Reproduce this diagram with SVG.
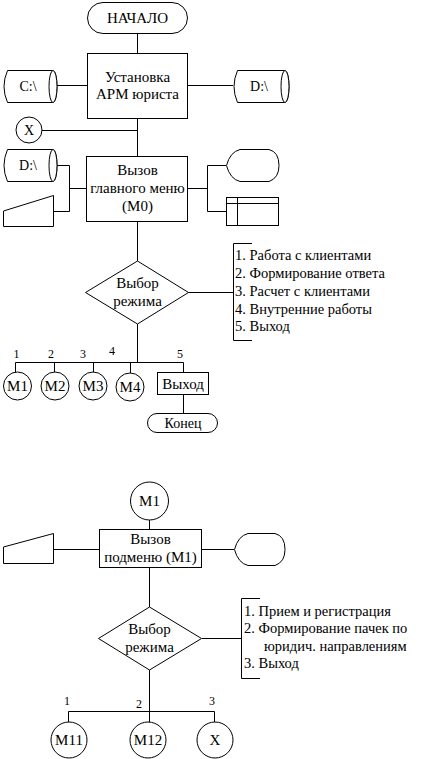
<svg xmlns="http://www.w3.org/2000/svg" width="442" height="759" viewBox="0 0 442 759">
<style>
.s{fill:#fff;stroke:#000;stroke-width:1}
.l{fill:none;stroke:#000;stroke-width:1}
text{fill:#000;font-family:'Liberation Serif','Times New Roman',serif}
.t{font-size:15px;text-anchor:middle}
.c{font-size:14px;text-anchor:middle}
.n{font-size:12px;text-anchor:middle}
.li{font-size:14.5px}
</style>
<rect width="442" height="759" fill="#fff"/>
<g id="connectors">
<path class="l" d="M137.5,33 V53 M137.5,118 V157 M137.5,221 V261 M137.5,324 V362.5"/>
<path class="l" d="M57,85.5 H87 M187,85.5 H233"/>
<path class="l" d="M42,130.5 H137.5"/>
<path class="l" d="M53,165.5 H69.5 V211.5 H53 M69.5,188.5 H86"/>
<path class="l" d="M188,188.5 H207.5 M207.5,165.5 V211.5 M207.5,165.5 H226 M207.5,211.5 H226"/>
<path class="l" d="M188,292.5 H233"/>
<path class="l" d="M15.5,372 V362.5 H183.5 V372 M54.5,362.5 V372 M93.5,362.5 V372 M130.5,362.5 V373"/>
<path class="l" d="M183.5,394 V413"/>
<path class="l" d="M149.5,520 V529 M149.5,567 V607 M149.5,670 V722"/>
<path class="l" d="M53,549.5 H99 M202,549.5 H234"/>
<path class="l" d="M202,638.5 H241"/>
<path class="l" d="M68.5,722 V711.5 H214.5 V722"/>
</g>
<g id="start">
<rect class="s" x="87.5" y="2.5" width="100" height="31" rx="15.5"/>
<text class="t" x="137.5" y="23">НАЧАЛО</text>
</g>
<g id="install">
<rect class="s" x="87.5" y="53.5" width="100" height="65"/>
<text class="t" x="137.5" y="82">Установка</text>
<text class="t" x="137.5" y="99">АРМ юриста</text>
</g>
<g id="diskC">
<path class="s" d="M7.5,70.5 H53 A4,16 0 0 1 53,102.5 H7.5 Q0.5,86.5 7.5,70.5 Z"/>
<ellipse class="s" cx="53" cy="86.5" rx="4" ry="16"/>
<text class="c" x="28" y="91">C:\</text>
</g>
<g id="diskD1">
<path class="s" d="M237.5,70.5 H285 A4,16 0 0 1 285,102.5 H237.5 Q230.5,86.5 237.5,70.5 Z"/>
<ellipse class="s" cx="285" cy="86.5" rx="4" ry="16"/>
<text class="c" x="259" y="91">D:\</text>
</g>
<g id="connX1">
<circle class="s" cx="29" cy="130" r="13"/>
<text class="c" x="29" y="135">X</text>
</g>
<g id="diskD2">
<path class="s" d="M7.5,149.5 H53 A4,16 0 0 1 53,181.5 H7.5 Q0.5,165.5 7.5,149.5 Z"/>
<ellipse class="s" cx="53" cy="165.5" rx="4" ry="16"/>
<text class="c" x="28" y="170">D:\</text>
</g>
<g id="input1">
<path class="s" d="M3.5,211 L53.5,195.5 V226.5 H3.5 Z"/>
</g>
<g id="mainmenu">
<rect class="s" x="86.5" y="156.5" width="101" height="65"/>
<text class="t" x="137.5" y="175">Вызов</text>
<text class="t" x="137.5" y="193">главного меню</text>
<text class="t" x="137.5" y="211">(M0)</text>
</g>
<g id="display1">
<path class="s" d="M226.5,165.5 Q230,152 240,149.5 H269 Q279,152 279,165.5 Q279,178 269,181.5 H240 Q230,179 226.5,165.5 Z"/>
</g>
<g id="table1">
<rect class="s" x="226.5" y="197.5" width="52" height="28"/>
<path class="l" d="M226.5,203.5 H278.5 M237.5,197.5 V225.5"/>
</g>
<g id="choice1">
<polygon class="s" points="137.5,261 188.5,292.5 137.5,324 85.5,292.5"/>
<text class="t" x="137.5" y="288">Выбор</text>
<text class="t" x="137.5" y="306">режима</text>
</g>
<g id="list1">
<path class="l" d="M252,243.5 H233.5 V340.5 H252"/>
<text class="li" x="235" y="260">1. Работа с клиентами</text>
<text class="li" x="235" y="278">2. Формирование ответа</text>
<text class="li" x="235" y="296">3. Расчет с клиентами</text>
<text class="li" x="235" y="314">4. Внутренние работы</text>
<text class="li" x="235" y="331">5. Выход</text>
</g>
<g id="labels1">
<text class="n" x="16.5" y="358">1</text>
<text class="n" x="51" y="358">2</text>
<text class="n" x="83" y="358">3</text>
<text class="n" x="112" y="355">4</text>
<text class="n" x="180" y="358">5</text>
</g>
<g id="m1a"><circle class="s" cx="17.5" cy="386" r="14"/><text class="t" x="17.5" y="391">M1</text></g>
<g id="m2a"><circle class="s" cx="55" cy="386" r="14"/><text class="t" x="55" y="391">M2</text></g>
<g id="m3a"><circle class="s" cx="93" cy="386" r="14"/><text class="t" x="93" y="391">M3</text></g>
<g id="m4a"><circle class="s" cx="130" cy="387" r="14"/><text class="t" x="130" y="392">M4</text></g>
<g id="exit1">
<rect class="s" x="157.5" y="372.5" width="51" height="22"/>
<text class="t" x="183" y="389">Выход</text>
</g>
<g id="end">
<rect class="s" x="147.5" y="413.5" width="70" height="19" rx="9.5"/>
<text class="c" x="183" y="428">Конец</text>
</g>
<g id="m1b">
<circle class="s" cx="149.5" cy="501" r="19"/>
<text class="t" x="149.5" y="506">M1</text>
</g>
<g id="submenu">
<rect class="s" x="99.5" y="529.5" width="102" height="38"/>
<text class="t" x="150.5" y="544">Вызов</text>
<text class="t" x="150.5" y="562">подменю (M1)</text>
</g>
<g id="input2">
<path class="s" d="M3.5,547 L53.5,533.5 V563.5 H3.5 Z"/>
</g>
<g id="display2">
<path class="s" d="M234.5,549.5 Q238,536 248,533.5 H275 Q285,536 285,549.5 Q285,562 275,565.5 H248 Q238,563 234.5,549.5 Z"/>
</g>
<g id="choice2">
<polygon class="s" points="149.5,607 201.5,638.5 149.5,670 98.5,638.5"/>
<text class="t" x="149.5" y="634">Выбор</text>
<text class="t" x="149.5" y="652">режима</text>
</g>
<g id="list2">
<path class="l" d="M260,598.5 H241.5 V678.5 H260"/>
<text class="li" x="244" y="616">1. Прием и регистрация</text>
<text class="li" x="244" y="633">2. Формирование пачек по</text>
<text class="li" x="264" y="651">юридич. направлениям</text>
<text class="li" x="244" y="668">3. Выход</text>
</g>
<g id="labels2">
<text class="n" x="67" y="705">1</text>
<text class="n" x="139" y="708">2</text>
<text class="n" x="212" y="705">3</text>
</g>
<g id="m11"><circle class="s" cx="69" cy="740" r="18"/><text class="t" x="69" y="745">M11</text></g>
<g id="m12"><circle class="s" cx="148" cy="740" r="18"/><text class="t" x="148" y="745">M12</text></g>
<g id="connX2"><circle class="s" cx="215" cy="740" r="18"/><text class="t" x="215" y="745">X</text></g>
</svg>
